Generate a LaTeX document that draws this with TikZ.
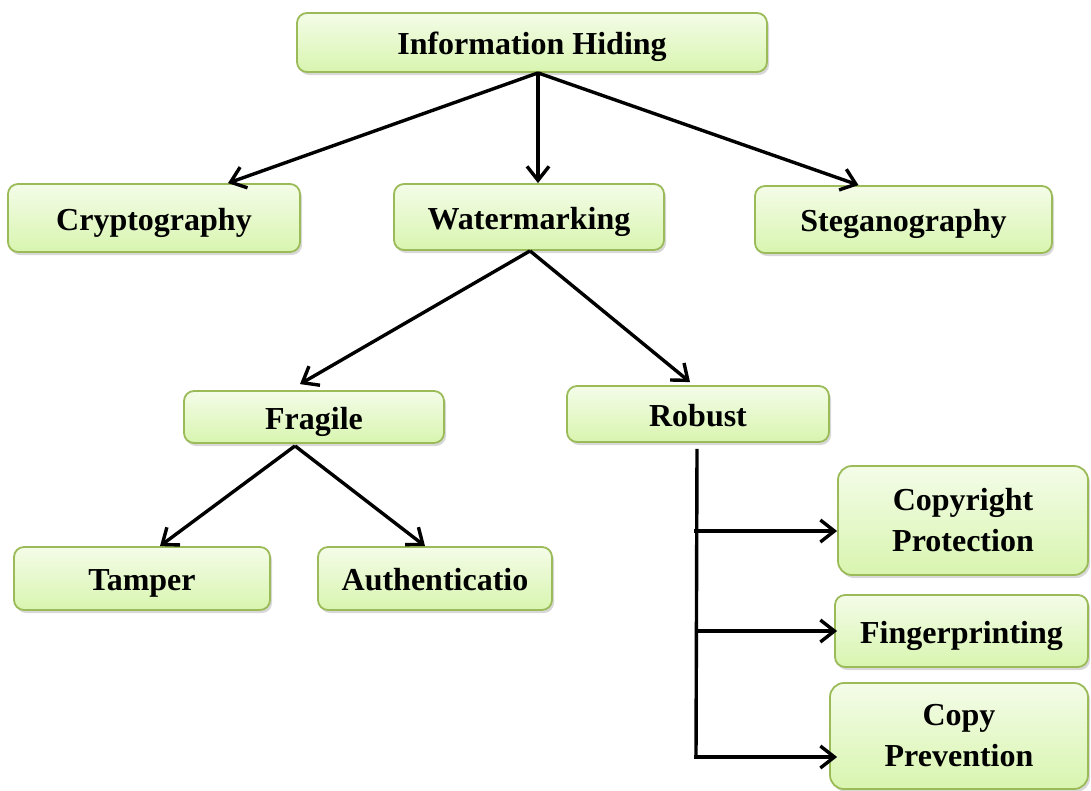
\documentclass[tikz,border=0pt]{standalone}
\usepackage{fontspec}
\setmainfont{Liberation Serif}
\usetikzlibrary{arrows.meta,shadows}
\definecolor{bordergreen}{HTML}{9BBB59}
\definecolor{topgreen}{HTML}{F4FCE8}
\definecolor{botgreen}{HTML}{D8F5AF}
\begin{document}
\begin{tikzpicture}[x=1pt,y=-1pt,
  box/.style={draw=bordergreen, line width=1.8pt, rounded corners=10pt,
    top color=topgreen, bottom color=botgreen,
    drop shadow={shadow xshift=2pt,shadow yshift=-3pt,opacity=0.3},
    font=\fontsize{32}{41}\selectfont\bfseries, align=center, inner sep=0pt},
  one/.style={text height=27pt, text depth=3pt},
  conn/.style={line width=3.4pt, -{Straight Barb[length=14pt,width=22pt,line width=3.4pt]}},
  trunk/.style={line width=3.4pt}]
\fill[white] (0,0) rectangle (1091,790);
\useasboundingbox (0,0) rectangle (1091,790);

\node[box, one, minimum width=470pt, minimum height=59pt] (ih) at (532,42.5) {Information Hiding};
\node[box, one, minimum width=292pt, minimum height=68pt] (crypt) at (154,218) {Cryptography};
\node[box, one, minimum width=270pt, minimum height=66pt] (water) at (529,217) {Watermarking};
\node[box, one, minimum width=297pt, minimum height=67pt] (stego) at (903.5,219.5) {Steganography};
\node[box, one, minimum width=260pt, minimum height=52pt] (fragile) at (314,417) {Fragile};
\node[box, one, minimum width=262pt, minimum height=56pt] (robust) at (698,414) {Robust};
\node[box, one, minimum width=256pt, minimum height=63pt] (tamper) at (142,578.5) {Tamper};
\node[box, one, minimum width=234pt, minimum height=63pt] (auth) at (435,578.5) {Authenticatio};
\node[box, minimum width=250pt, minimum height=109pt, rounded corners=14pt] (copyright) at (963,520.5) {Copyright\\Protection};
\node[box, one, minimum width=253pt, minimum height=72pt] (finger) at (961.5,631) {Fingerprinting};
\node[box, minimum width=258pt, minimum height=106pt, rounded corners=14pt] (copyprev) at (959,736) {Copy\\Prevention};

\coordinate (ihb) at ([xshift=6pt]ih.south);
\draw[conn] (ihb) -- ([xshift=74pt]crypt.north);
\draw[conn] (ihb) -- ([xshift=9pt]water.north);
\draw[conn] (ihb) -- ([xshift=-45pt]stego.north);

\coordinate (wb) at ([xshift=1pt]water.south);
\draw[conn] (wb) -- ([xshift=-14pt,yshift=6pt]fragile.north);
\draw[conn] (wb) -- ([xshift=-8pt,yshift=3pt]robust.north);

\coordinate (fb) at ([xshift=-19pt,yshift=-2pt]fragile.south);
\draw[conn] (fb) -- ([xshift=18pt]tamper.north);
\draw[conn] (fb) -- ([xshift=-10pt]auth.north);

\coordinate (rtop) at ([xshift=-1pt,yshift=-6pt]robust.south);
\coordinate (j1) at (696,531);
\coordinate (j2) at (696,631);
\coordinate (j3) at (696,757);
\draw[trunk] (rtop) -- (j3);
\draw[conn] ([xshift=-1.7pt]j1) -- (j1 -| copyright.west);
\draw[conn] (j2) -- ([xshift=3pt]j2 -| finger.west);
\draw[conn] ([xshift=-1.7pt]j3) -- ([xshift=8pt]j3 -| copyprev.west);
\end{tikzpicture}
\end{document}
